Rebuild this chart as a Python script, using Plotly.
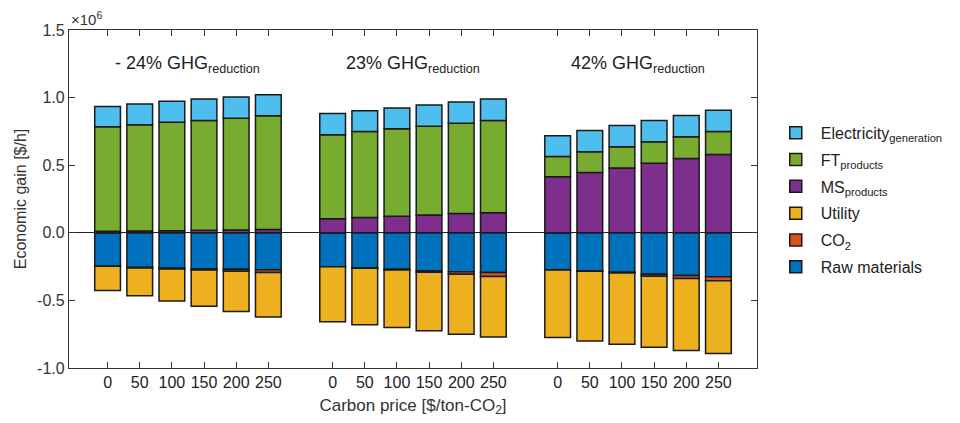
import plotly.graph_objects as go

# ---- data (values in units of 10^6 $/h) ----
carbon_prices = ["0", "50", "100", "150", "200", "250"]
scenarios = ["- 24% GHG<sub>reduction</sub>", "23% GHG<sub>reduction</sub>", "42% GHG<sub>reduction</sub>"]

# positive parts (stack order: MS bottom, FT, Electricity top)
ms_products = [
    [0.012, 0.014, 0.016, 0.018, 0.020, 0.024],
    [0.103, 0.113, 0.123, 0.132, 0.142, 0.149],
    [0.414, 0.446, 0.480, 0.515, 0.549, 0.579],
]
ft_products = [
    [0.772, 0.785, 0.802, 0.813, 0.828, 0.841],
    [0.623, 0.637, 0.647, 0.657, 0.669, 0.682],
    [0.150, 0.154, 0.157, 0.159, 0.162, 0.171],
]
electricity = [
    [0.150, 0.154, 0.155, 0.159, 0.157, 0.157],
    [0.156, 0.152, 0.154, 0.157, 0.157, 0.159],
    [0.154, 0.157, 0.157, 0.157, 0.157, 0.157],
]
# negative parts (stack order: Raw materials near zero, CO2, Utility bottom)
raw_materials = [
    [-0.248, -0.256, -0.262, -0.266, -0.270, -0.274],
    [-0.252, -0.260, -0.270, -0.280, -0.288, -0.294],
    [-0.275, -0.282, -0.292, -0.306, -0.316, -0.325],
]
co2 = [
    [0.0, -0.004, -0.006, -0.010, -0.014, -0.020],
    [0.0, -0.003, -0.006, -0.012, -0.018, -0.030],
    [0.0, -0.003, -0.006, -0.016, -0.022, -0.030],
]
utility = [
    [-0.178, -0.206, -0.237, -0.268, -0.299, -0.329],
    [-0.405, -0.418, -0.425, -0.433, -0.444, -0.446],
    [-0.500, -0.516, -0.526, -0.524, -0.532, -0.537],
]

y_ticks = [-1.0, -0.5, 0.0, 0.5, 1.0, 1.5]
y_tick_labels = ["-1.0", "-0.5", "0.0", "0.5", "1.0", "1.5"]

# ---- build x positions (groups separated by a gap of one slot) ----
x_pos = []
x_labels = []
for g in range(len(scenarios)):
    for i, p in enumerate(carbon_prices):
        x_pos.append(1 + g * 7 + i)
        x_labels.append(p)

def flat(arr):
    return [v for row in arr for v in row]

series = [
    ("Raw materials", raw_materials, "#0072BD"),
    ("CO<sub>2</sub>", co2, "#D95319"),
    ("Utility", utility, "#EDB120"),
    ("MS<sub>products</sub>", ms_products, "#7E2F8E"),
    ("FT<sub>products</sub>", ft_products, "#77AC30"),
    ("Electricity<sub>generation</sub>", electricity, "#4DBEEE"),
]

fig = go.Figure()
for k, (name, vals, color) in enumerate(series):
    fig.add_trace(go.Bar(
        x=x_pos, y=flat(vals), name=name, width=0.8, legendgroup=f"g{k}",
        legendrank=len(series) - k,
        marker=dict(color=color, line=dict(color="#1a1a1a", width=1.5)),
    ))

for g, label in enumerate(scenarios):
    fig.add_annotation(
        x=1 + g * 7 + 2.5, y=1.245, text=label, showarrow=False,
        font=dict(size=18, color="#222"), xanchor="center", yanchor="middle",
    )

fig.add_annotation(
    xref="paper", yref="paper", x=0.0, y=1.0, text="×10<sup>6</sup>",
    showarrow=False, xanchor="left", yanchor="bottom",
    font=dict(size=15, color="#333"),
)

fig.update_layout(
    width=952, height=415,
    barmode="relative",
    plot_bgcolor="white", paper_bgcolor="white",
    margin=dict(l=57, r=192, t=22, b=53),
    font=dict(family="Arial, Liberation Sans, sans-serif", size=16, color="#333"),
    showlegend=True,
    legend=dict(
        x=1.02, y=0.746, xanchor="left", yanchor="top",
        traceorder="grouped", font=dict(size=16, color="#222"),
        bgcolor="rgba(0,0,0,0)", itemwidth=40, tracegroupgap=3,
    ),
    xaxis=dict(
        range=[-0.2, 21.2], tickmode="array", tickvals=x_pos, ticktext=x_labels,
        ticks="inside", ticklen=6, tickcolor="#333", tickwidth=1.2,
        showline=True, linecolor="#333", linewidth=1.3, mirror="ticks",
        showgrid=False, zeroline=False,
        title=dict(text="Carbon price [$/ton-CO<sub>2</sub>]", standoff=8,
                   font=dict(size=17, color="#333")),
        tickfont=dict(size=16, color="#222"),
    ),
    yaxis=dict(
        range=[-1.0, 1.5], tickmode="array", tickvals=y_ticks, ticktext=y_tick_labels,
        ticks="inside", ticklen=6, tickcolor="#333", tickwidth=1.2,
        showline=True, linecolor="#333", linewidth=1.3, mirror="ticks",
        showgrid=False, zeroline=True, zerolinecolor="#222", zerolinewidth=1.3,
        title=dict(text="Economic gain [$/h]", standoff=6, font=dict(size=16, color="#333")),
        tickfont=dict(size=16, color="#333"),
    ),
)

fig.write_html("out.html")
